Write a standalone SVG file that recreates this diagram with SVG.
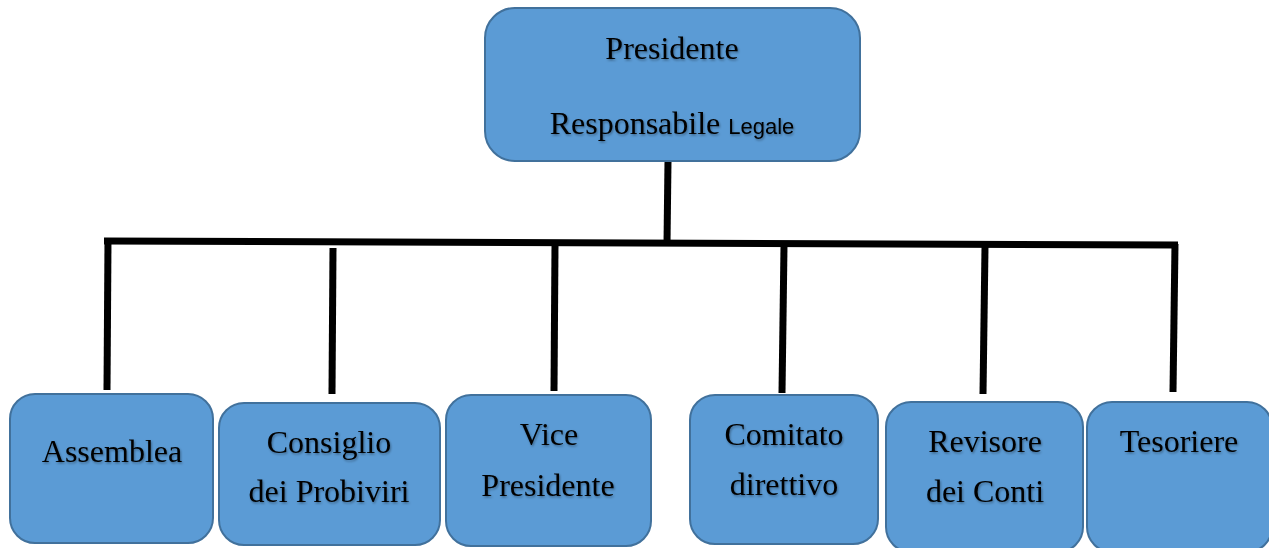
<svg xmlns="http://www.w3.org/2000/svg" width="1269" height="548" viewBox="0 0 1269 548">
<defs>
<filter id="ts" x="-10%" y="-30%" width="120%" height="160%">
<feDropShadow dx="1" dy="1.5" stdDeviation="0.8" flood-color="#000" flood-opacity="0.35"/>
</filter>
</defs>
<style>
.box{fill:#5B9BD5;stroke:#41719C;stroke-width:2}
.t{font-family:"Liberation Serif","Times New Roman",serif;font-size:32px;fill:#000;text-anchor:middle;filter:url(#ts)}
.s{font-family:"Liberation Sans",Arial,sans-serif;font-size:22px}
.c{stroke:#000;stroke-width:7;fill:none;stroke-linecap:butt}
</style>
<rect x="0" y="0" width="1269" height="548" fill="#fff"/>
<g id="connectors">
<line class="c" x1="668" y1="161" x2="667" y2="243"/>
<line class="c" x1="104" y1="241" x2="1178" y2="245"/>
<line class="c" x1="108" y1="241" x2="107" y2="390"/>
<line class="c" x1="333" y1="248" x2="332" y2="394"/>
<line class="c" x1="555" y1="245" x2="554" y2="391"/>
<line class="c" x1="784" y1="246" x2="782" y2="393"/>
<line class="c" x1="985" y1="247" x2="983" y2="394"/>
<line class="c" x1="1175" y1="244" x2="1173" y2="392"/>
</g>
<g id="presidente">
<rect class="box" x="485" y="8" width="375" height="153" rx="30"/>
<text class="t" x="672" y="59">Presidente</text>
<text class="t" x="672" y="134">Responsabile <tspan class="s">Legale</tspan></text>
</g>
<g id="assemblea">
<rect class="box" x="10" y="394" width="203" height="149" rx="25"/>
<text class="t" x="112" y="462">Assemblea</text>
</g>
<g id="consiglio">
<rect class="box" x="219" y="403" width="221" height="142" rx="25"/>
<text class="t" x="329" y="453">Consiglio</text>
<text class="t" x="329" y="502">dei Probiviri</text>
</g>
<g id="vice">
<rect class="box" x="446" y="395" width="205" height="151" rx="25"/>
<text class="t" x="549" y="445">Vice</text>
<text class="t" x="548" y="496">Presidente</text>
</g>
<g id="comitato">
<rect class="box" x="690" y="395" width="188" height="149" rx="25"/>
<text class="t" x="784" y="445">Comitato</text>
<text class="t" x="784" y="495">direttivo</text>
</g>
<g id="revisore">
<rect class="box" x="886" y="402" width="197" height="150" rx="25"/>
<text class="t" x="985" y="452">Revisore</text>
<text class="t" x="985" y="502">dei Conti</text>
</g>
<g id="tesoriere">
<rect class="box" x="1087" y="402" width="185" height="150" rx="25"/>
<text class="t" x="1179" y="452">Tesoriere</text>
</g>
</svg>
